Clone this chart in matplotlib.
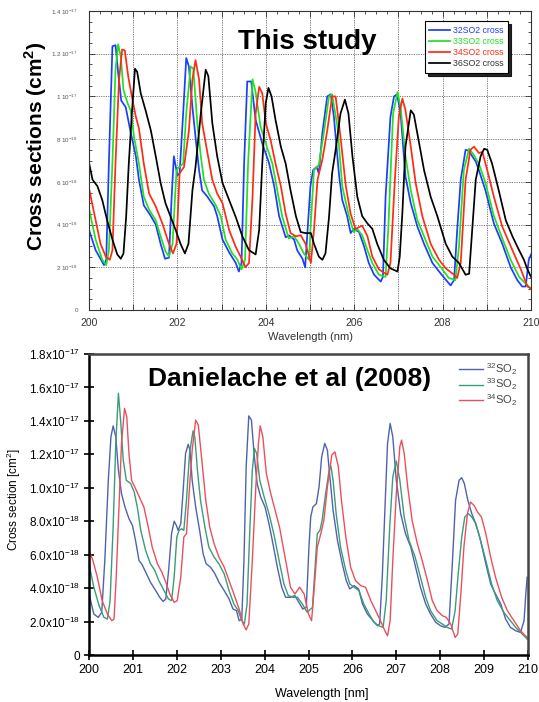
import matplotlib
matplotlib.use("Agg")
import matplotlib.pyplot as plt
from matplotlib.ticker import MultipleLocator

plt.rcParams['font.family'] = ['Liberation Sans', 'DejaVu Sans']
plt.rcParams['mathtext.fontset'] = 'custom'
plt.rcParams['mathtext.rm'] = 'Liberation Sans'
plt.rcParams['mathtext.bf'] = 'Liberation Sans:bold'

# ---------------- Top panel: "This study" (values in 1e-18 cm^2) ----------------
top_b_wl = [200.00,200.15,200.34,200.39,200.45,200.53,200.60,200.66,200.73,200.83,200.94,201.06,201.13,201.24,201.40,201.51,201.62,201.72,201.81,201.87,201.92,202.00,202.05,202.13,202.20,202.26,202.34,202.41,202.49,202.56,202.68,202.83,202.90,203.02,203.17,203.32,203.39,203.45,203.51,203.58,203.67,203.77,203.92,204.07,204.19,204.30,204.45,204.52,204.64,204.71,204.83,204.89,205.01,205.07,205.15,205.20,205.28,205.39,205.47,205.54,205.66,205.73,205.84,205.92,205.99,206.11,206.22,206.33,206.45,206.60,206.65,206.71,206.82,206.90,206.97,207.05,207.16,207.28,207.43,207.58,207.77,207.96,208.18,208.26,208.33,208.41,208.52,208.60,208.67,208.75,208.82,208.97,209.16,209.35,209.54,209.69,209.80,209.88,209.95,210.00]
top_b_val = [3.75,2.8,2.1,2.35,6.9,12.35,12.4,11.1,9.8,9.5,8.35,7.2,6.1,4.9,4.4,4.0,3.1,2.4,2.45,5.3,7.2,6.3,6.4,9.2,11.8,11.4,9.5,8.1,6.55,5.6,5.3,4.85,4.4,3.3,2.7,2.2,1.8,2.2,6.9,10.7,10.7,8.9,7.8,6.9,5.8,4.4,3.4,3.5,3.3,2.8,2.4,2.0,5.8,6.55,6.7,6.4,8.3,10.0,10.1,9.05,6.25,5.15,4.4,3.6,3.8,3.65,3.0,2.2,1.65,1.33,1.55,5.3,9.05,10.0,10.1,9.2,6.25,5.0,3.9,3.1,2.2,1.7,1.15,1.4,3.75,6.1,7.5,7.45,7.2,6.95,6.55,5.6,4.05,3.1,2.0,1.4,1.1,1.1,2.35,2.6]

top_g_wl = [200.00,200.15,200.30,200.39,200.45,200.53,200.60,200.66,200.72,200.78,200.87,200.94,201.02,201.13,201.24,201.36,201.51,201.62,201.73,201.81,201.89,201.98,202.04,202.13,202.20,202.30,202.36,202.45,202.53,202.60,202.71,202.87,202.98,203.09,203.24,203.36,203.45,203.53,203.60,203.70,203.77,203.88,204.00,204.15,204.26,204.37,204.52,204.64,204.75,204.86,204.98,205.01,205.09,205.20,205.32,205.43,205.50,205.62,205.73,205.88,205.99,206.07,206.18,206.30,206.41,206.56,206.71,206.77,206.88,206.98,207.05,207.16,207.28,207.43,207.58,207.77,207.96,208.14,208.29,208.37,208.48,208.60,208.71,208.82,208.97,209.16,209.35,209.54,209.73,209.92,210.00]
top_g_val = [4.75,3.3,2.35,2.1,2.8,6.9,11.25,12.45,11.85,10.3,9.7,9.35,8.1,6.85,5.3,4.7,4.2,3.45,2.75,2.5,3.1,6.55,6.7,6.85,9.2,11.4,11.3,8.75,7.2,6.1,5.45,4.9,4.4,3.3,2.65,2.35,1.9,2.35,6.9,10.8,10.2,8.6,7.8,6.85,5.6,4.4,3.35,3.45,3.1,2.65,2.35,3.75,6.55,6.8,8.4,10.0,10.1,8.6,5.8,4.4,3.65,3.8,3.5,2.8,2.2,1.65,1.55,3.75,9.2,10.2,9.5,7.2,5.6,4.2,3.45,2.5,2.0,1.5,1.4,2.95,6.55,7.55,7.25,6.85,5.95,4.4,3.35,2.35,1.55,1.15,1.0]

top_r_wl = [200.00,200.15,200.26,200.38,200.47,200.53,200.60,200.68,200.75,200.81,200.89,200.97,201.06,201.13,201.24,201.36,201.51,201.66,201.81,201.90,201.98,202.05,202.15,202.26,202.34,202.41,202.49,202.56,202.68,202.79,202.90,203.02,203.17,203.32,203.43,203.54,203.62,203.70,203.77,203.85,203.92,204.00,204.11,204.22,204.34,204.45,204.56,204.68,204.79,204.90,205.02,205.09,205.17,205.28,205.39,205.50,205.58,205.69,205.81,205.92,206.03,206.18,206.30,206.41,206.56,206.75,206.82,206.92,207.01,207.09,207.16,207.28,207.39,207.54,207.73,207.92,208.07,208.26,208.33,208.41,208.52,208.63,208.71,208.82,208.90,209.01,209.16,209.35,209.58,209.77,209.92,210.00]
top_r_val = [5.7,4.2,3.1,2.5,2.35,2.8,6.9,10.8,12.2,12.15,10.9,10.0,9.05,8.5,6.85,5.45,4.85,4.05,3.1,2.65,3.1,6.4,6.7,8.4,10.8,11.7,10.8,8.75,7.35,6.1,5.45,5.0,3.75,2.95,2.5,2.0,2.2,5.3,9.2,10.45,10.15,8.75,7.95,6.85,5.8,4.5,3.6,3.45,3.5,3.1,2.2,3.75,6.1,7.05,8.4,10.0,10.0,8.1,5.8,4.5,3.8,3.95,3.45,2.5,1.9,1.65,2.2,6.1,9.05,9.9,9.35,7.65,5.95,4.4,3.1,2.35,1.95,1.65,1.5,2.2,6.1,7.5,7.65,7.35,7.4,6.55,5.3,3.9,2.8,1.9,1.1,1.0]

top_k_wl = [200.00,200.08,200.19,200.30,200.41,200.53,200.64,200.72,200.78,200.84,200.90,200.97,201.04,201.09,201.17,201.28,201.40,201.51,201.62,201.73,201.85,201.96,202.07,202.17,202.25,202.34,202.41,202.53,202.64,202.70,202.79,202.90,203.02,203.17,203.32,203.47,203.62,203.77,203.85,203.92,204.00,204.06,204.13,204.22,204.34,204.45,204.56,204.68,204.79,204.90,205.02,205.09,205.20,205.28,205.35,205.43,205.50,205.58,205.69,205.79,205.87,205.96,206.07,206.18,206.30,206.41,206.52,206.67,206.82,206.98,207.03,207.09,207.16,207.28,207.35,207.47,207.58,207.73,207.88,208.07,208.22,208.37,208.52,208.60,208.67,208.75,208.86,208.94,209.01,209.12,209.27,209.43,209.58,209.73,209.84,209.92,210.00]
top_k_val = [6.9,6.1,5.8,5.15,4.2,3.3,2.6,2.4,2.65,4.35,6.85,9.2,11.3,11.15,10.15,9.35,8.4,7.2,5.95,5.0,4.35,3.75,3.1,2.65,3.1,5.6,6.7,9.2,11.25,10.95,8.75,7.2,5.95,5.15,4.35,3.45,2.8,2.6,3.75,6.85,9.7,10.4,10.0,8.9,7.65,6.85,5.6,4.4,3.65,3.6,3.6,3.1,2.5,2.35,2.65,4.35,6.4,7.5,9.2,9.85,9.2,7.2,5.3,4.4,4.05,3.8,3.1,2.35,1.95,1.8,2.5,4.55,7.65,9.35,9.15,7.8,6.55,5.3,4.4,3.1,2.5,2.2,1.65,1.7,3.75,6.1,7.2,7.55,7.5,6.85,5.6,4.2,3.45,2.8,2.35,1.9,1.55]

top_labels = ['32SO2 cross', '33SO2 cross', '34SO2 cross', '36SO2 cross']
top_colors = ['#1b3dff', '#22e022', '#ff2a14', '#000000']
top_yticks = [0, 2, 4, 6, 8, 10, 12, 14]
top_yticklabels = ['0', r'2 10$^{-18}$', r'4 10$^{-18}$', r'6 10$^{-18}$', r'8 10$^{-18}$',
                   r'1 10$^{-17}$', r'1.2 10$^{-17}$', r'1.4 10$^{-17}$']
top_xticks = [200, 201, 202, 203, 204, 205, 206, 207, 208, 209, 210]
top_xticklabels = ['200', '', '202', '', '204', '', '206', '', '208', '', '210']

# ---------------- Bottom panel: Danielache et al (2008) (values in 1e-18 cm^2) ----------------
bot_b_wl = [200.00,200.11,200.21,200.29,200.36,200.44,200.50,200.55,200.61,200.67,200.74,200.82,200.91,200.99,201.06,201.14,201.21,201.31,201.40,201.52,201.61,201.69,201.75,201.82,201.88,201.94,201.99,202.03,202.09,202.14,202.20,202.26,202.30,202.35,202.43,202.52,202.60,202.67,202.77,202.87,202.96,203.08,203.19,203.28,203.36,203.42,203.48,203.53,203.58,203.64,203.70,203.76,203.83,203.91,204.01,204.10,204.19,204.29,204.39,204.48,204.59,204.69,204.78,204.87,204.95,205.01,205.05,205.10,205.18,205.24,205.30,205.37,205.43,205.48,205.56,205.66,205.77,205.86,205.94,206.04,206.14,206.23,206.34,206.47,206.57,206.62,206.68,206.74,206.80,206.86,206.92,207.00,207.10,207.21,207.33,207.44,207.55,207.67,207.78,207.90,208.01,208.11,208.20,208.28,208.35,208.43,208.49,208.55,208.63,208.72,208.81,208.90,209.04,209.15,209.26,209.38,209.49,209.60,209.72,209.83,209.91,209.95,209.98]
bot_b_val = [3.65,2.45,2.25,2.55,5.65,10.45,13.05,13.7,13.05,11.05,9.65,8.85,8.15,7.75,6.85,5.65,5.4,4.85,4.35,3.85,3.45,3.2,3.35,5.25,7.25,8.0,7.75,7.45,7.85,9.65,12.05,12.6,12.25,10.45,8.85,7.45,6.05,5.45,5.25,4.85,4.35,3.85,3.35,2.75,2.65,2.05,2.15,5.65,11.25,14.3,14.05,12.05,10.25,9.45,8.85,7.85,6.65,5.25,4.05,3.45,3.45,3.55,3.15,2.75,2.85,6.45,8.25,8.85,9.05,10.05,11.85,12.65,12.25,10.85,8.65,6.85,5.45,4.45,3.95,4.15,3.95,3.05,2.45,2.05,1.75,1.85,4.65,8.65,12.65,13.85,13.05,10.45,8.45,7.25,6.45,5.25,4.05,3.05,2.45,1.95,1.75,1.65,1.85,5.65,9.25,10.45,10.6,10.25,9.25,8.45,7.85,7.05,5.45,4.25,3.65,3.05,2.15,1.65,1.45,1.35,2.05,3.65,4.65]

bot_g_wl = [200.00,200.11,200.23,200.34,200.42,200.48,200.55,200.61,200.67,200.72,200.78,200.85,200.95,201.03,201.10,201.18,201.29,201.40,201.50,201.59,201.71,201.81,201.88,201.94,202.00,202.05,202.11,202.16,202.22,202.29,202.37,202.41,202.47,202.54,202.64,202.73,202.85,202.96,203.08,203.19,203.30,203.40,203.48,203.54,203.60,203.66,203.72,203.77,203.82,203.89,203.99,204.10,204.21,204.33,204.44,204.54,204.65,204.75,204.86,204.97,205.09,205.15,205.20,205.26,205.31,205.39,205.47,205.51,205.56,205.63,205.73,205.85,205.94,206.04,206.15,206.26,206.38,206.49,206.60,206.70,206.77,206.85,206.92,207.00,207.08,207.18,207.29,207.43,207.55,207.67,207.78,207.93,208.05,208.16,208.26,208.34,208.41,208.49,208.56,208.64,208.72,208.81,208.92,209.04,209.17,209.30,209.45,209.57,209.72,209.87,209.98]
bot_g_val = [5.45,4.05,2.95,2.25,2.15,3.25,7.65,12.65,15.65,14.05,11.65,10.45,10.25,9.75,8.85,7.45,6.25,5.45,5.05,4.45,3.85,3.35,3.25,4.65,7.05,7.45,7.55,7.45,9.25,12.05,13.4,13.05,11.05,9.25,7.65,6.45,5.85,5.45,4.85,3.85,3.05,2.65,2.05,1.85,3.05,7.25,11.05,12.35,12.05,10.45,9.45,8.45,7.25,5.65,4.25,3.55,3.45,3.45,3.05,2.55,2.85,5.25,7.25,7.45,8.05,9.65,11.05,11.3,10.45,8.45,6.45,5.05,4.25,4.05,3.85,3.05,2.45,1.95,1.75,1.65,3.25,7.65,10.65,11.6,10.45,8.25,6.85,5.85,4.65,3.45,2.65,2.05,1.85,1.65,1.55,2.65,4.85,7.05,8.25,8.45,8.25,7.85,6.85,5.65,4.25,3.25,2.55,2.15,1.65,1.25,0.95]

bot_r_wl = [200.00,200.09,200.19,200.30,200.42,200.52,200.57,200.62,200.68,200.74,200.81,200.86,200.91,200.97,201.06,201.18,201.25,201.35,201.44,201.56,201.66,201.75,201.84,201.94,202.01,202.09,202.16,202.22,202.28,202.35,202.43,202.49,202.57,202.66,202.75,202.85,202.96,203.08,203.19,203.30,203.42,203.51,203.58,203.64,203.72,203.80,203.86,203.90,203.96,204.04,204.14,204.24,204.34,204.48,204.59,204.69,204.80,204.90,205.00,205.07,205.12,205.20,205.28,205.35,205.43,205.53,205.60,205.68,205.75,205.85,205.96,206.07,206.19,206.30,206.42,206.53,206.64,206.74,206.80,206.86,206.92,207.00,207.08,207.12,207.18,207.26,207.36,207.48,207.59,207.71,207.82,207.93,208.05,208.14,208.24,208.34,208.40,208.47,208.54,208.62,208.69,208.77,208.85,208.94,209.04,209.15,209.26,209.40,209.53,209.68,209.83,209.98]
bot_r_val = [6.25,5.65,4.65,3.25,2.45,2.05,2.15,4.65,8.65,12.65,14.75,14.25,12.05,10.45,9.95,9.25,8.85,7.65,6.45,5.45,4.95,4.35,3.65,3.15,3.25,4.65,7.05,7.25,9.65,12.25,14.05,13.75,11.65,9.25,7.65,6.65,5.85,5.25,4.45,3.65,2.75,1.85,1.5,1.85,5.65,10.05,12.65,13.7,13.05,10.85,9.65,8.65,7.65,5.65,4.05,3.65,4.05,3.65,2.45,2.05,3.65,6.45,7.25,8.05,10.05,11.95,12.15,11.25,9.25,7.05,5.25,4.45,4.15,4.05,3.25,2.65,2.05,1.45,1.15,2.05,5.65,9.65,12.45,12.85,12.05,10.05,8.05,6.65,5.65,4.45,3.25,2.65,2.35,2.25,1.85,1.05,1.25,3.65,6.45,8.45,9.15,8.95,8.55,8.25,7.25,5.85,4.65,3.45,2.65,2.05,1.45,1.05]

bot_labels = [r'$^{32}$SO$_2$', r'$^{33}$SO$_2$', r'$^{34}$SO$_2$']
bot_colors = ['#4f63ad', '#3a9c78', '#e9505e']
bot_yticks = [0, 2, 4, 6, 8, 10, 12, 14, 16, 18]
bot_yticklabels = ['0', r'2.0x10$^{-18}$', r'4.0x10$^{-18}$', r'6.0x10$^{-18}$', r'8.0x10$^{-18}$',
                   r'1.0x10$^{-17}$', r'1.2x10$^{-17}$', r'1.4x10$^{-17}$', r'1.6x10$^{-17}$', r'1.8x10$^{-17}$']
bot_xticks = [200, 201, 202, 203, 204, 205, 206, 207, 208, 209, 210]

fig = plt.figure(figsize=(5.39, 7.02), dpi=100)

# ---------- top axes ----------
ax1 = fig.add_axes([89/539, 1-310/702, 442/539, 299/702])
for wl, v, c, lab in zip([top_b_wl, top_g_wl, top_r_wl, top_k_wl],
                         [top_b_val, top_g_val, top_r_val, top_k_val], top_colors, top_labels):
    ax1.plot(wl, v, color=c, lw=1.25, label=lab, solid_joinstyle='round')
ax1.set_xlim(200, 210)
ax1.set_ylim(0, 14)
ax1.set_xticks(top_xticks)
ax1.set_xticklabels(top_xticklabels, fontsize=7.5, color='#333333')
ax1.set_yticks(top_yticks)
ax1.set_yticklabels(top_yticklabels, fontsize=4.5, color='#555555')
ax1.xaxis.set_minor_locator(MultipleLocator(0.25))
ax1.yaxis.set_minor_locator(MultipleLocator(0.5))
ax1.tick_params(which='both', direction='in', top=True, right=True, width=0.6, color='#333333')
ax1.tick_params(which='major', length=4)
ax1.tick_params(which='minor', length=2)
ax1.tick_params(axis='y', pad=8)
ax1.tick_params(axis='x', pad=6)
ax1.grid(True, which='major', linestyle=(0, (1.2, 1.2)), color='#777777', lw=0.7)
for s in ax1.spines.values():
    s.set_linewidth(0.8)
    s.set_color('#333333')
ax1.set_xlabel('Wavelength (nm)', fontsize=8, color='#333333')
ax1.xaxis.set_label_coords(0.5, -0.072)
ax1.set_ylabel('Cross sections (cm$^\\mathbf{2}$)', fontsize=15, fontweight='bold')
ax1.yaxis.set_label_coords(-0.09, 0.548)
ax1.text(0.493, 0.896, 'This study', transform=ax1.transAxes, ha='center', va='center',
         fontsize=20, fontweight='bold')
leg1 = ax1.legend(loc='upper right', bbox_to_anchor=(0.948, 0.965), fontsize=6.3,
                  frameon=True, fancybox=False, shadow={'color': 'black', 'alpha': 0.85},
                  edgecolor='black', framealpha=1, handlelength=2.4, handletextpad=0.3,
                  labelspacing=0.25, borderpad=0.5, borderaxespad=0)
leg1.get_frame().set_linewidth(0.8)
for t, c in zip(leg1.get_texts(), top_colors):
    t.set_color(c if c != '#000000' else '#333333')

# ---------- bottom axes ----------
ax2 = fig.add_axes([89/539, 1-655/702, 439/539, 301/702])
for wl, v, c, lab in zip([bot_b_wl, bot_g_wl, bot_r_wl], [bot_b_val, bot_g_val, bot_r_val],
                         bot_colors, bot_labels):
    ax2.plot(wl, v, color=c, lw=1.0, label=lab, solid_joinstyle='round')
ax2.set_xlim(200, 210)
ax2.set_ylim(0, 18)
ax2.set_xticks(bot_xticks)
ax2.set_xticklabels([str(x) for x in bot_xticks], fontsize=9)
ax2.set_yticks(bot_yticks)
ax2.set_yticklabels(bot_yticklabels, fontsize=8.5)
ax2.tick_params(which='major', direction='inout', length=7, width=1.2, pad=3)
for k in ['left', 'bottom']:
    ax2.spines[k].set_linewidth(1.8)
    ax2.spines[k].set_color('black')
for k in ['top', 'right']:
    ax2.spines[k].set_linewidth(1.8)
    ax2.spines[k].set_color('#444444')
ax2.set_xlabel('Wavelength [nm]', fontsize=9)
ax2.xaxis.set_label_coords(0.531, -0.11)
ax2.set_ylabel('Cross section [cm$^2$]', fontsize=8.5)
ax2.yaxis.set_label_coords(-0.15, 0.515)
ax2.text(0.458, 0.917, 'Danielache et al (2008)', transform=ax2.transAxes, ha='center',
         va='center', fontsize=19, fontweight='bold')
leg2 = ax2.legend(loc='upper right', bbox_to_anchor=(0.997, 1.01), fontsize=8,
                  frameon=False, handlelength=2.2, handletextpad=0.2, labelspacing=0.0)
for t in leg2.get_texts():
    t.set_color('#444444')

fig.savefig('out.png', dpi=100)
